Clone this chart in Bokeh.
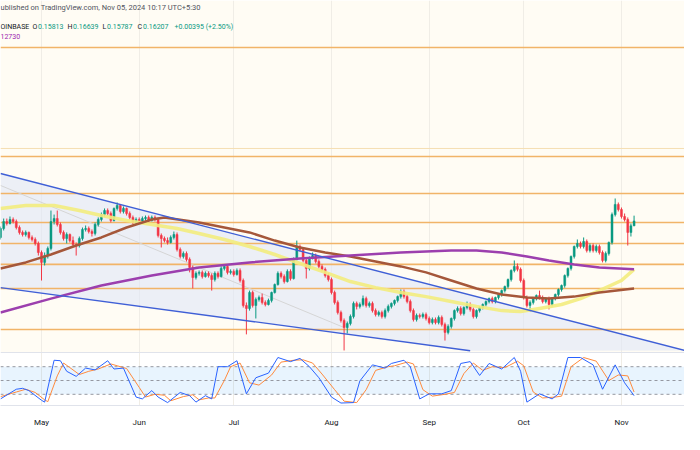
import datetime as dt
import math
from bokeh.plotting import figure
from bokeh.models import Range1d, LinearScale, FixedTicker, Label, BoxAnnotation
from bokeh.embed import file_html
from bokeh.resources import INLINE

# ---------------- data ----------------
FIRST_CANDLE = "2024-04-18"   # one candle per day from here to 2024-11-05
opens = [
    0.1492, 0.1560, 0.1616, 0.1600, 0.1632, 0.1616, 0.1568, 0.1530, 0.1514, 0.1530, 0.1492, 0.1477, 0.1448,
    0.1384, 0.1317, 0.1363, 0.1412, 0.1616, 0.1640, 0.1592, 0.1530, 0.1484, 0.1514,
    0.1469, 0.1440, 0.1433, 0.1484, 0.1553, 0.1560, 0.1537, 0.1522, 0.1592, 0.1632,
    0.1673, 0.1707, 0.1682, 0.1624, 0.1725, 0.1751, 0.1699, 0.1725, 0.1682, 0.1649,
    0.1608, 0.1632, 0.1616, 0.1640, 0.1649, 0.1624, 0.1649, 0.1632, 0.1507, 0.1484,
    0.1469, 0.1455, 0.1492, 0.1514, 0.1405, 0.1357, 0.1377, 0.1337, 0.1284, 0.1221,
    0.1247, 0.1253, 0.1227, 0.1247, 0.1233, 0.1209, 0.1247, 0.1227, 0.1278, 0.1291,
    0.1253, 0.1259, 0.1240, 0.1265, 0.1203, 0.1062, 0.1046, 0.1133, 0.1062, 0.1094,
    0.1105, 0.1078, 0.1067, 0.1089, 0.1133, 0.1179, 0.1247, 0.1227, 0.1197, 0.1259,
    0.1215, 0.1337, 0.1426, 0.1405, 0.1330, 0.1278, 0.1350, 0.1363, 0.1323, 0.1291,
    0.1272, 0.1233, 0.1209, 0.1133, 0.1078, 0.1025, 0.0985, 0.0951, 0.0970, 0.1005,
    0.1073, 0.1057, 0.1067, 0.1099, 0.1062, 0.1073, 0.1035, 0.1015, 0.1025, 0.1005,
    0.1035, 0.1057, 0.1073, 0.1089, 0.1110, 0.1138, 0.1110, 0.1083, 0.1035, 0.0990,
    0.1010, 0.1005, 0.1015, 0.0995, 0.0975, 0.0990, 0.0975, 0.1000, 0.0966, 0.0928,
    0.0956, 0.0995, 0.1035, 0.1046, 0.1020, 0.1051, 0.1067, 0.1041, 0.1005, 0.1035,
    0.1051, 0.1067, 0.1083, 0.1099, 0.1083, 0.1105, 0.1122, 0.1144, 0.1167, 0.1209,
    0.1265, 0.1291, 0.1272, 0.1203, 0.1105, 0.1062, 0.1078, 0.1099, 0.1116, 0.1105,
    0.1083, 0.1099, 0.1067, 0.1099, 0.1122, 0.1150, 0.1173, 0.1233, 0.1278, 0.1357,
    0.1426, 0.1448, 0.1426, 0.1462, 0.1398, 0.1433, 0.1398, 0.1426, 0.1384, 0.1330,
    0.1377, 0.1455, 0.1673, 0.1760, 0.1716, 0.1657, 0.1632, 0.1530, 0.15813,
]
highs = [
    0.1576, 0.1640, 0.1640, 0.1657, 0.1649, 0.1632, 0.1584, 0.1545, 0.1545, 0.1537, 0.1507, 0.1492, 0.1462,
    0.1398, 0.1384, 0.1426, 0.1707, 0.1673, 0.1707, 0.1608, 0.1545, 0.1530, 0.1522,
    0.1499, 0.1455, 0.1499, 0.1568, 0.1584, 0.1576, 0.1553, 0.1608, 0.1649, 0.1690,
    0.1725, 0.1725, 0.1699, 0.1733, 0.1777, 0.1760, 0.1742, 0.1733, 0.1699, 0.1665,
    0.1649, 0.1649, 0.1657, 0.1665, 0.1665, 0.1665, 0.1665, 0.1649, 0.1522, 0.1499,
    0.1492, 0.1507, 0.1537, 0.1530, 0.1419, 0.1391, 0.1391, 0.1350, 0.1297, 0.1259,
    0.1265, 0.1265, 0.1259, 0.1259, 0.1247, 0.1259, 0.1259, 0.1291, 0.1304, 0.1297,
    0.1272, 0.1272, 0.1278, 0.1278, 0.1215, 0.1078, 0.1144, 0.1144, 0.1105, 0.1116,
    0.1127, 0.1089, 0.1099, 0.1138, 0.1185, 0.1259, 0.1259, 0.1240, 0.1272, 0.1272,
    0.1350, 0.1469, 0.1440, 0.1419, 0.1343, 0.1357, 0.1384, 0.1377, 0.1337, 0.1304,
    0.1284, 0.1247, 0.1221, 0.1144, 0.1089, 0.1035, 0.0995, 0.0980, 0.1015, 0.1083,
    0.1083, 0.1078, 0.1116, 0.1110, 0.1083, 0.1083, 0.1046, 0.1035, 0.1035, 0.1046,
    0.1067, 0.1078, 0.1094, 0.1116, 0.1150, 0.1150, 0.1122, 0.1094, 0.1046, 0.1020,
    0.1020, 0.1025, 0.1025, 0.1005, 0.1000, 0.1000, 0.1010, 0.1010, 0.0975, 0.0966,
    0.1000, 0.1041, 0.1057, 0.1057, 0.1057, 0.1083, 0.1078, 0.1051, 0.1041, 0.1057,
    0.1073, 0.1089, 0.1105, 0.1110, 0.1110, 0.1127, 0.1150, 0.1173, 0.1215, 0.1272,
    0.1330, 0.1310, 0.1284, 0.1215, 0.1116, 0.1089, 0.1105, 0.1122, 0.1144, 0.1116,
    0.1105, 0.1110, 0.1105, 0.1127, 0.1156, 0.1179, 0.1240, 0.1284, 0.1363, 0.1433,
    0.1477, 0.1462, 0.1492, 0.1477, 0.1448, 0.1448, 0.1440, 0.1440, 0.1398, 0.1391,
    0.1462, 0.1690, 0.1813, 0.1777, 0.1733, 0.1682, 0.1649, 0.1600, 0.16639,
]
lows = [
    0.1477, 0.1545, 0.1584, 0.1592, 0.1600, 0.1553, 0.1514, 0.1499, 0.1499, 0.1477, 0.1462, 0.1433, 0.1363,
    0.1203, 0.1297, 0.1343, 0.1398, 0.1592, 0.1576, 0.1514, 0.1469, 0.1448, 0.1455,
    0.1426, 0.1363, 0.1419, 0.1469, 0.1537, 0.1522, 0.1499, 0.1507, 0.1576, 0.1616,
    0.1657, 0.1665, 0.1608, 0.1616, 0.1707, 0.1682, 0.1682, 0.1665, 0.1632, 0.1592,
    0.1592, 0.1600, 0.1600, 0.1624, 0.1608, 0.1616, 0.1616, 0.1492, 0.1419, 0.1455,
    0.1440, 0.1448, 0.1477, 0.1391, 0.1343, 0.1343, 0.1323, 0.1253, 0.1156, 0.1209,
    0.1233, 0.1215, 0.1221, 0.1221, 0.1144, 0.1197, 0.1215, 0.1221, 0.1265, 0.1240,
    0.1240, 0.1227, 0.1233, 0.1191, 0.1051, 0.0919, 0.1035, 0.1051, 0.0995, 0.1083,
    0.1067, 0.1057, 0.1062, 0.1078, 0.1127, 0.1173, 0.1215, 0.1185, 0.1191, 0.1203,
    0.1209, 0.1330, 0.1391, 0.1317, 0.1215, 0.1265, 0.1337, 0.1310, 0.1278, 0.1259,
    0.1221, 0.1197, 0.1122, 0.1067, 0.1015, 0.0975, 0.0848, 0.0923, 0.0961, 0.0995,
    0.1041, 0.1046, 0.1057, 0.1051, 0.1051, 0.1025, 0.1005, 0.1005, 0.0995, 0.0995,
    0.1025, 0.1046, 0.1062, 0.1078, 0.1099, 0.1099, 0.1073, 0.1025, 0.0980, 0.0980,
    0.0995, 0.0995, 0.0985, 0.0966, 0.0966, 0.0966, 0.0966, 0.0956, 0.0891, 0.0919,
    0.0946, 0.0985, 0.1025, 0.1010, 0.1010, 0.1041, 0.1030, 0.0995, 0.0995, 0.1025,
    0.1041, 0.1057, 0.1073, 0.1073, 0.1073, 0.1094, 0.1110, 0.1133, 0.1156, 0.1197,
    0.1253, 0.1259, 0.1191, 0.1094, 0.1051, 0.1030, 0.1067, 0.1089, 0.1094, 0.1073,
    0.1073, 0.1041, 0.1057, 0.1089, 0.1110, 0.1138, 0.1161, 0.1221, 0.1265, 0.1343,
    0.1412, 0.1412, 0.1412, 0.1384, 0.1384, 0.1384, 0.1384, 0.1370, 0.1317, 0.1317,
    0.1363, 0.1440, 0.1657, 0.1699, 0.1640, 0.1616, 0.1433, 0.1499, 0.15787,
]
closes = [
    0.1560, 0.1616, 0.1600, 0.1632, 0.1616, 0.1568, 0.1530, 0.1514, 0.1530, 0.1492, 0.1477, 0.1448, 0.1384,
    0.1317, 0.1363, 0.1412, 0.1616, 0.1640, 0.1592, 0.1530, 0.1484, 0.1514, 0.1469,
    0.1440, 0.1433, 0.1484, 0.1553, 0.1560, 0.1537, 0.1522, 0.1592, 0.1632, 0.1673,
    0.1707, 0.1682, 0.1624, 0.1725, 0.1751, 0.1699, 0.1725, 0.1682, 0.1649, 0.1608,
    0.1632, 0.1616, 0.1640, 0.1649, 0.1624, 0.1649, 0.1632, 0.1507, 0.1484, 0.1469,
    0.1455, 0.1492, 0.1514, 0.1405, 0.1357, 0.1377, 0.1337, 0.1284, 0.1221, 0.1247,
    0.1253, 0.1227, 0.1247, 0.1233, 0.1209, 0.1247, 0.1227, 0.1278, 0.1291, 0.1253,
    0.1259, 0.1240, 0.1265, 0.1203, 0.1062, 0.1046, 0.1133, 0.1062, 0.1094, 0.1105,
    0.1078, 0.1067, 0.1089, 0.1133, 0.1179, 0.1247, 0.1227, 0.1197, 0.1259, 0.1215,
    0.1337, 0.1426, 0.1405, 0.1330, 0.1278, 0.1350, 0.1363, 0.1323, 0.1291, 0.1272,
    0.1233, 0.1209, 0.1133, 0.1078, 0.1025, 0.0985, 0.0951, 0.0970, 0.1005, 0.1073,
    0.1057, 0.1067, 0.1099, 0.1062, 0.1073, 0.1035, 0.1015, 0.1025, 0.1005, 0.1035,
    0.1057, 0.1073, 0.1089, 0.1110, 0.1138, 0.1110, 0.1083, 0.1035, 0.0990, 0.1010,
    0.1005, 0.1015, 0.0995, 0.0975, 0.0990, 0.0975, 0.1000, 0.0966, 0.0928, 0.0956,
    0.0995, 0.1035, 0.1046, 0.1020, 0.1051, 0.1067, 0.1041, 0.1005, 0.1035, 0.1051,
    0.1067, 0.1083, 0.1099, 0.1083, 0.1105, 0.1122, 0.1144, 0.1167, 0.1209, 0.1265,
    0.1291, 0.1272, 0.1203, 0.1105, 0.1062, 0.1078, 0.1099, 0.1116, 0.1105, 0.1083,
    0.1099, 0.1067, 0.1099, 0.1122, 0.1150, 0.1173, 0.1233, 0.1278, 0.1357, 0.1426,
    0.1448, 0.1426, 0.1462, 0.1398, 0.1433, 0.1398, 0.1426, 0.1384, 0.1330, 0.1377,
    0.1455, 0.1673, 0.1760, 0.1716, 0.1657, 0.1632, 0.1530, 0.15813, 0.16207,
]

# moving averages, sampled along the curves (day offsets from 1 May 2024)
MA_BASE = "2024-05-01"
ma_fast_days = [-13, -5, 4, 12, 19, 27, 35, 43, 50, 58, 66, 74, 82, 90, 98, 106, 114, 122,
                130, 138, 146, 152, 158, 165, 171, 177, 184, 188]
ma_fast = [0.1725, 0.1751, 0.1751, 0.1707, 0.1665, 0.1624, 0.1592, 0.1560, 0.1522, 0.1477,
           0.1426, 0.1370, 0.1310, 0.1253, 0.1197, 0.1161, 0.1133, 0.1110, 0.1083, 0.1057,
           0.1035, 0.1030, 0.1046, 0.1067, 0.1099, 0.1144, 0.1203, 0.1272]
ma_mid_days = [-13, -5, 3, 11, 19, 27, 35, 39, 50, 66, 74, 82, 90, 98, 106, 114, 122, 130,
               138, 146, 154, 161, 169, 177, 188]
ma_mid = [0.1278, 0.1317, 0.1370, 0.1433, 0.1492, 0.1568, 0.1632, 0.1649, 0.1608, 0.1530,
          0.1469, 0.1419, 0.1384, 0.1357, 0.1323, 0.1291, 0.1253, 0.1203, 0.1156, 0.1122,
          0.1105, 0.1099, 0.1110, 0.1133, 0.1156]
ma_slow_days = [-13, 3, 19, 35, 50, 66, 82, 98, 114, 130, 138, 146, 154, 161, 169, 177, 188]
ma_slow = [0.1025, 0.1099, 0.1173, 0.1233, 0.1284, 0.1317, 0.1343, 0.1363, 0.1384, 0.1398,
           0.1398, 0.1384, 0.1357, 0.1330, 0.1304, 0.1284, 0.1273]

# horizontal levels and drawn trend lines
level_prices = [0.3857, 0.2237, 0.1859, 0.1608, 0.1448, 0.1304, 0.1156, 0.0942]
faint_level_prices = [0.2328]
upper_trend_days = [-13, 204]
upper_trend = [0.2054, 0.0848]
lower_trend_days = [-13, 136]
lower_trend = [0.1161, 0.0847]
guide_days = [-13, 96]
guide = [0.1935, 0.0951]

# Stochastic RSI (%K blue, %D orange)
stoch_k_days = [-13, -8, -6, -4, 0, 1, 4, 6, 8, 11, 14, 17, 21, 23, 26, 30, 32, 35, 37, 40,
                44, 47, 49, 52, 54, 56, 59, 62, 65, 68, 72, 75, 79, 82, 85, 88, 92, 95, 99, 101,
                105, 109, 111, 115, 117, 120, 123, 127, 130, 133, 136, 139, 142, 146, 150, 152,
                154, 158, 162, 164, 167, 171, 175, 178, 182, 185, 188]
stoch_k = [10, 31, 33, 28, 7, 3, 94, 93, 70, 59, 77, 73, 93, 75, 77, 14, 10, 28, 14, 2,
           24, 17, 3, 17, 10, 80, 80, 93, 21, 56, 66, 100, 91, 98, 80, 56, 14, 1, 2, 49,
           84, 77, 87, 94, 80, 10, 21, 21, 28, 87, 91, 61, 87, 75, 100, 70,
           3, 21, 10, 21, 100, 100, 84, 31, 84, 45, 17]
stoch_d_days = [-13, -8, -5, -2, 1, 2, 5, 7, 9, 12, 15, 18, 22, 24, 27, 31, 33, 36, 39, 41,
                45, 48, 50, 53, 55, 58, 60, 63, 66, 69, 73, 76, 80, 83, 86, 89, 93, 96, 100, 103,
                106, 110, 112, 116, 118, 121, 124, 128, 131, 134, 137, 140, 143, 147, 151, 153,
                156, 159, 163, 165, 168, 172, 176, 180, 183, 186, 188]
stoch_d = [15, 25, 31, 24, 8, 4, 60, 88, 78, 63, 70, 75, 86, 82, 76, 35, 14, 20, 18, 6,
           15, 19, 8, 12, 12, 50, 80, 88, 45, 40, 62, 90, 94, 95, 88, 64, 30, 5, 2, 30,
           72, 80, 82, 90, 86, 30, 16, 20, 24, 65, 88, 72, 80, 78, 92, 82,
           25, 12, 14, 16, 80, 100, 92, 50, 62, 60, 25]
stoch_bands = [80, 50, 20]

month_ticks = ["2024-05-01", "2024-06-01", "2024-07-01", "2024-08-01",
               "2024-09-01", "2024-10-01", "2024-11-01"]
month_labels = ["May", "Jun", "Jul", "Aug", "Sep", "Oct", "Nov"]

title_text = "ublished on TradingView.com, Nov 05, 2024 10:17 UTC+5:30"
symbol_text = "OINBASE"
ohlc_letters = ["O", "H", "L", "C"]
ohlc_values = ["0.15813", "0.16639", "0.15787", "0.16207"]
change_text = "+0.00395 (+2.50%)"
ma_value_text = "12730"

# ---------------- helpers ----------------
EPOCH = dt.datetime(1970, 1, 1)
DAY = 86400000.0


def ms(s):
    return (dt.datetime.fromisoformat(s) - EPOCH).total_seconds() * 1000.0


BASE = ms(MA_BASE)


def day_ms(d):
    return BASE + d * DAY


# layout: reference-pixel -> data coordinate (for pane geometry and text placement)
def px_x(x):
    return BASE + (x - 41.0) / 3.152 * DAY


def px_y(y):
    return 0.162 * math.exp((220.5 - y) / 200.0)


X0, X1 = px_x(0), px_x(684)
PANE_BOTTOM = px_y(352)

UP, DOWN = "#089981", "#f23645"
CREAM = "#fffcf4"
FONT = "Roboto"
HDR = "7.5px"
HDR2 = "7px"

p = figure(width=684, height=434, x_axis_type="datetime", y_axis_type="log",
           x_range=Range1d(X0, X1), y_range=Range1d(px_y(405), px_y(0)),
           y_axis_location=None, toolbar_location=None, output_backend="svg",
           min_border_left=0, min_border_right=0, min_border_top=0, min_border_bottom=29,
           background_fill_color="white", border_fill_color="white", outline_line_color=None)
p.extra_y_ranges = {"stoch": Range1d((403 - 405) / 0.46, 403 / 0.46)}
p.extra_y_scales = {"stoch": LinearScale()}

# pane backgrounds
p.add_layout(BoxAnnotation(bottom=PANE_BOTTOM, fill_color=CREAM, fill_alpha=1.0,
                           line_color=None, level="image"))
ticks = [ms(t) for t in month_ticks]
p.xgrid.ticker = FixedTicker(ticks=ticks)
p.xgrid.grid_line_color = "#f0ede6"
p.ygrid.visible = False

# stoch pane band + guides
p.quad(left=[X0], right=[X1], bottom=[stoch_bands[2]], top=[stoch_bands[0]],
       y_range_name="stoch", fill_color="#2196f3", fill_alpha=0.1, line_color=None)
for b in stoch_bands:
    p.line([X0, X1], [b, b], y_range_name="stoch", line_color="#9598a1",
           line_width=1, line_dash="3 3")
p.line([X0, X1], [PANE_BOTTOM, PANE_BOTTOM], line_color="#e0e3eb", line_width=1)

# channel fill
p.patch([day_ms(upper_trend_days[0]), day_ms(upper_trend_days[1]),
         day_ms(lower_trend_days[1]), day_ms(lower_trend_days[0])],
        [upper_trend[0], upper_trend[1], lower_trend[1], lower_trend[0]],
        fill_color="#dfe6f7", fill_alpha=0.6, line_color=None)

# horizontal levels
for lv in faint_level_prices:
    p.line([X0, X1], [lv, lv], line_color="#f5dfb2", line_width=1)
for lv in level_prices:
    p.line([X0, X1], [lv, lv], line_color="#f1b468", line_width=1.6)

# faint guide line
p.line([day_ms(d) for d in guide_days], guide, line_color="#d5d5d5", line_width=1)

# candles
cx = [ms(FIRST_CANDLE) + i * DAY for i in range(len(closes))]
cols = [UP if c >= o else DOWN for o, c in zip(opens, closes)]
p.segment(x0=cx, y0=highs, x1=cx, y1=lows, line_color=cols, line_width=1)
p.vbar(x=cx, width=0.62 * DAY, top=[max(o, c) for o, c in zip(opens, closes)],
       bottom=[min(o, c) for o, c in zip(opens, closes)],
       fill_color=cols, line_color=cols, line_width=0.5)

# moving averages
p.line([day_ms(d) for d in ma_fast_days], ma_fast, line_color="#f3ec7e", line_width=3.5,
       line_alpha=0.9, line_join="round")
p.line([day_ms(d) for d in ma_mid_days], ma_mid, line_color="#a5573a", line_width=2.5,
       line_join="round")
p.line([day_ms(d) for d in ma_slow_days], ma_slow, line_color="#9c3fae", line_width=2.5,
       line_join="round")

# channel lines
p.line([day_ms(d) for d in upper_trend_days], upper_trend, line_color="#3f5fd6", line_width=1.4)
p.line([day_ms(d) for d in lower_trend_days], lower_trend, line_color="#3f5fd6", line_width=1.4)

# stochastic RSI
p.line([day_ms(d) for d in stoch_d_days], stoch_d, y_range_name="stoch",
       line_color="#ff8a3d", line_width=1)
p.line([day_ms(d) for d in stoch_k_days], stoch_k, y_range_name="stoch",
       line_color="#2962ff", line_width=1)

# header texts
p.add_layout(Label(x=px_x(0), y=px_y(7), text=title_text, text_font=FONT,
                   text_font_size=HDR, text_color="#50535e", text_baseline="middle"))
p.add_layout(Label(x=px_x(0), y=px_y(26), text=symbol_text, text_font=FONT,
                   text_font_size=HDR2, text_color="#131722", text_baseline="middle"))
ohlc_px = [32, 67, 102, 137]
letter_w = [5.5, 5.5, 4.5, 5.5]
for xx, lw, letter, val in zip(ohlc_px, letter_w, ohlc_letters, ohlc_values):
    p.add_layout(Label(x=px_x(xx), y=px_y(26), text=letter, text_font=FONT,
                       text_font_size=HDR2, text_color="#131722", text_baseline="middle"))
    p.add_layout(Label(x=px_x(xx + lw), y=px_y(26), text=val, text_font=FONT,
                       text_font_size=HDR2, text_color="#089981", text_baseline="middle"))
p.add_layout(Label(x=px_x(174), y=px_y(26), text=change_text, text_font=FONT,
                   text_font_size=HDR2, text_color="#089981", text_baseline="middle"))
p.add_layout(Label(x=px_x(0), y=px_y(36), text=ma_value_text, text_font=FONT,
                   text_font_size=HDR2, text_color="#9c27b0", text_baseline="middle"))

# time axis
p.xaxis.ticker = FixedTicker(ticks=ticks)
p.xaxis.major_label_overrides = {t: lab for t, lab in zip(ticks, month_labels)}
p.xaxis.major_tick_line_color = None
p.xaxis.minor_tick_line_color = None
p.xaxis.axis_line_color = "#e0e3eb"
p.xaxis.major_label_text_font = FONT
p.xaxis.major_label_text_font_size = "8px"
p.xaxis.major_label_text_color = "#131722"
p.xaxis.major_label_standoff = 6

open("out.html", "w").write(file_html(p, INLINE))
